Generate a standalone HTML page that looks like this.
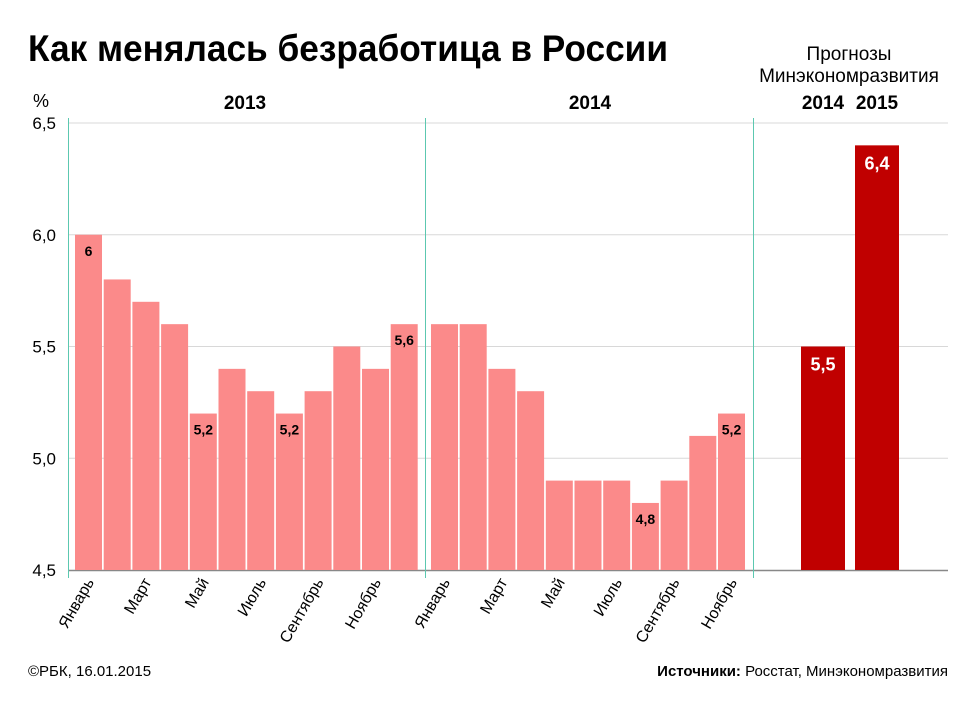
<!DOCTYPE html>
<html><head><meta charset="utf-8"><style>
body{margin:0;background:#fff;font-family:"Liberation Sans",sans-serif;}
svg text{font-family:"Liberation Sans",sans-serif;}
</style></head><body>
<svg width="976" height="710" viewBox="0 0 976 710">
<text x="28" y="61" font-size="37" font-weight="bold" fill="#000" textLength="640" lengthAdjust="spacingAndGlyphs">Как менялась безработица в России</text>
<text x="849" y="60" font-size="19" text-anchor="middle">Прогнозы</text>
<text x="849" y="82" font-size="19" text-anchor="middle">Минэкономразвития</text>
<text x="823" y="109" font-size="19" font-weight="bold" text-anchor="middle">2014</text>
<text x="877" y="109" font-size="19" font-weight="bold" text-anchor="middle">2015</text>
<text x="245" y="109" font-size="19" font-weight="bold" text-anchor="middle">2013</text>
<text x="590" y="109" font-size="19" font-weight="bold" text-anchor="middle">2014</text>
<text x="41" y="107" font-size="18" text-anchor="middle">%</text>
<g id="grid"></g>
<g id="bars"></g>
<g id="labels"></g>
<text x="28" y="676" font-size="15">©РБК, 16.01.2015</text>
<text x="948" y="676" font-size="15" text-anchor="end"><tspan font-weight="bold">Источники:</tspan> Росстат, Минэкономразвития</text>
</svg>
<script>
const months2013=["Январь","Февраль","Март","Апрель","Май","Июнь","Июль","Август","Сентябрь","Октябрь","Ноябрь","Декабрь"];
const values2013=[6.0,5.8,5.7,5.6,5.2,5.4,5.3,5.2,5.3,5.5,5.4,5.6];
const months2014=["Январь","Февраль","Март","Апрель","Май","Июнь","Июль","Август","Сентябрь","Октябрь","Ноябрь"];
const values2014=[5.6,5.6,5.4,5.3,4.9,4.9,4.9,4.8,4.9,5.1,5.2];
const labeled2013=[0,4,7,11];
const labeled2014=[7,10];
const forecastYears=["2014","2015"];
const forecastValues=[5.5,6.4];
const yTicks=[4.5,5.0,5.5,6.0,6.5];
const yTickLabels=["4,5","5,0","5,5","6,0","6,5"];

const NS="http://www.w3.org/2000/svg";
const y0=570,y1=123,vmin=4.5,vmax=6.5;
function yScale(v){return y0-(v-vmin)/(vmax-vmin)*(y0-y1);}
function mk(tag,attrs,parent){const e=document.createElementNS(NS,tag);for(const k in attrs)e.setAttribute(k,attrs[k]);parent.appendChild(e);return e;}
const grid=document.getElementById('grid'),bars=document.getElementById('bars'),labels=document.getElementById('labels');
function fmt(v){return Number.isInteger(v)?String(v):String(v).replace('.',',');}

yTicks.forEach((t,i)=>{
  if(i>0){const l=mk('line',{x1:68,x2:948,y1:yScale(t),y2:yScale(t),stroke:'#d8d8d8','stroke-width':1},grid);
  
  }
  const tx=mk('text',{x:56,y:yScale(t)+6,'font-size':17,'text-anchor':'end'},grid);
  tx.textContent=yTickLabels[i];
  
  
});
const axis=mk('line',{x1:68,x2:948,y1:y0+0.5,y2:y0+0.5,stroke:'#888','stroke-width':1.5},grid);


[[68.5,y1-5,y0+8],[425.5,y1-5,y0+8],[753.5,y1-5,y0+8]].forEach(s=>{
  const l=mk('line',{x1:s[0],x2:s[0],y1:s[1],y2:s[2],stroke:'#5cc8b0','stroke-width':1},grid);
  
  
});

const pitch=28.7,bw=27;
function drawSeries(months,vals,x0,lab,tag){
  vals.forEach((v,i)=>{
    const x=x0+i*pitch,top=yScale(v);
    const r=mk('rect',{x:x,y:top,width:bw,height:y0-top,fill:'#fb8a8a'},bars);
    
    
    if(lab.indexOf(i)>=0){
      const t=mk('text',{x:x+bw/2,y:top+21,'font-size':14,'font-weight':'bold','text-anchor':'middle'},labels);
      t.textContent=fmt(v);
      
      
    }
    if(i%2===0){
      const cx=x+bw/2+6,cy=y0+12;
      const t=mk('text',{x:cx,y:cy,'font-size':16,'text-anchor':'end',transform:'rotate(-60 '+cx+' '+cy+')'},labels);
      t.textContent=months[i];
      
      
    }
  });
}
drawSeries(months2013,values2013,75,labeled2013,'2013');
drawSeries(months2014,values2014,431,labeled2014,'2014');

const fx=[801,855];
forecastValues.forEach((v,i)=>{
  const top=yScale(v);
  const r=mk('rect',{x:fx[i],y:top,width:44,height:y0-top,fill:'#c00000'},bars);
  
  
  const t=mk('text',{x:fx[i]+22,y:top+24,'font-size':18,'font-weight':'bold','text-anchor':'middle',fill:'#fff'},labels);
  t.textContent=fmt(v);
  
  
});
</script>
</body></html>
